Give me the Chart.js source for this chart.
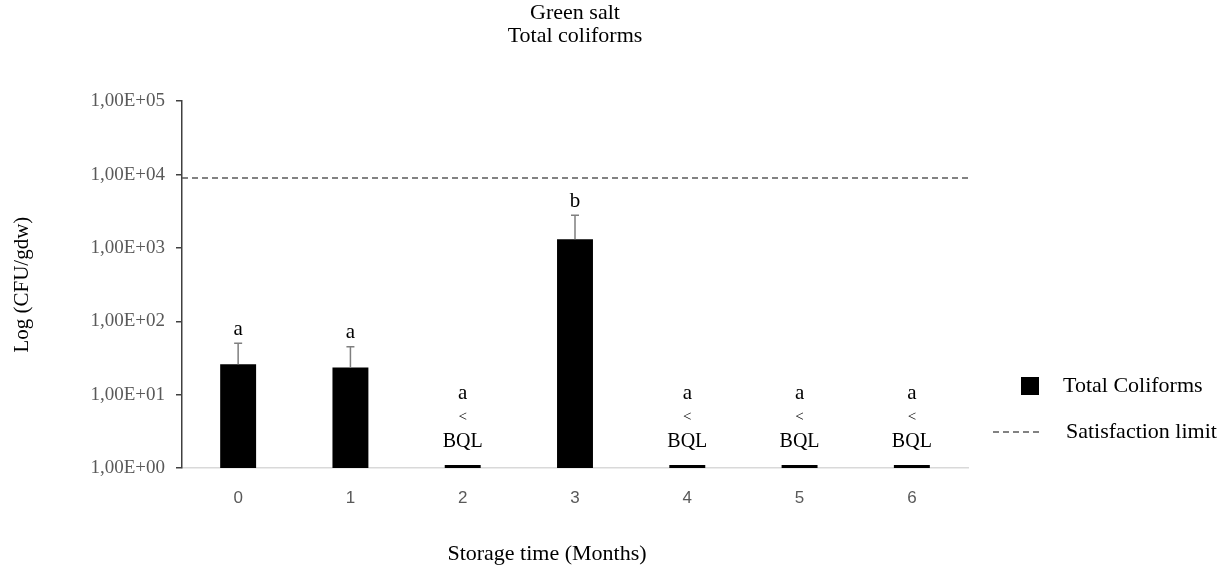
<!DOCTYPE html>
<html>
<head>
<meta charset="utf-8">
<script src="https://cdn.jsdelivr.net/npm/chart.js@4.4.1/dist/chart.umd.min.js"></script>
<style>
    html, body { margin: 0; padding: 0; background: #fff; }
    #wrap { width: 1222px; height: 566px; }
</style>
</head>
<body>
<div id="wrap"><canvas id="chart"></canvas></div>
<script>
var months = ['0', '1', '2', '3', '4', '5', '6'];
// samples below the quantification limit show up as a thin dash just above 1
var coliforms = [26, 23.5, 1.1, 1310, 1.1, 1.1, 1.1];
var coliformsError = [24, 21.5, 0, 1470, 0, 0, 0];
var letters = ['a', 'a', 'a', 'b', 'a', 'a', 'a'];
var belowLimit = [false, false, true, false, true, true, true];
var satisfactionLimit = 9000;
var yTickValues = [1, 10, 100, 1000, 10000, 100000];
var yTickLabels = ['1,00E+00', '1,00E+01', '1,00E+02', '1,00E+03', '1,00E+04', '1,00E+05'];

var serif = '"Liberation Serif", "Times New Roman", serif';
var limitDash = [6, 4];

var extrasPlugin = {
    id: 'extras',
    afterDatasetsDraw: (chart) => {
        var ctx = chart.ctx;
        var y = chart.scales.y;
        var area = chart.chartArea;
        var bars = chart.getDatasetMeta(0).data;
        ctx.save();

        // satisfaction limit across the plot
        var ly = y.getPixelForValue(satisfactionLimit);
        ctx.strokeStyle = '#595959';
        ctx.lineWidth = 1.5;
        ctx.setLineDash(limitDash);
        ctx.beginPath();
        ctx.moveTo(area.left, ly);
        ctx.lineTo(area.right + 4, ly);
        ctx.stroke();
        ctx.setLineDash([]);

        // error bars + letters
        ctx.fillStyle = '#000';
        ctx.textAlign = 'center';
        ctx.textBaseline = 'middle';
        var base = y.getPixelForValue(yTickValues[0]);
        for (var i = 0; i < bars.length; i++) {
            var x = bars[i].x;
            if (belowLimit[i]) {
                ctx.font = '21px ' + serif;
                ctx.fillText(letters[i], x, base - 75);
                ctx.font = '15px ' + serif;
                ctx.fillText('<', x, base - 51);
                ctx.font = '20px ' + serif;
                ctx.fillText('BQL', x, base - 26);
                continue;
            }
            var top = y.getPixelForValue(coliforms[i] + coliformsError[i]);
            ctx.strokeStyle = '#7f7f7f';
            ctx.lineWidth = 1.5;
            ctx.beginPath();
            ctx.moveTo(x, bars[i].y);
            ctx.lineTo(x, top);
            ctx.moveTo(x - 4, top);
            ctx.lineTo(x + 4, top);
            ctx.stroke();
            ctx.font = '21px ' + serif;
            ctx.fillText(letters[i], x, top - 14);
        }

        // x axis title, sits a little left of the plot centre
        ctx.font = '22px ' + serif;
        ctx.fillText('Storage time (Months)', (area.left + area.right) / 2 - 28, 554);

        // legend on the right
        var lx = area.right + 53;
        ctx.fillStyle = chart.data.datasets[0].backgroundColor;
        ctx.fillRect(lx, 377, 18, 18);
        ctx.fillStyle = '#000';
        ctx.textAlign = 'left';
        ctx.font = '22px ' + serif;
        ctx.fillText(chart.data.datasets[0].label, lx + 42, 386);
        ctx.strokeStyle = '#595959';
        ctx.setLineDash(limitDash);
        ctx.beginPath();
        ctx.moveTo(lx - 28, 432);
        ctx.lineTo(lx + 22, 432);
        ctx.stroke();
        ctx.setLineDash([]);
        ctx.fillText('Satisfaction limit', lx + 45, 432);
        ctx.restore();
    }
};

var ctx = document.getElementById('chart').getContext('2d');
var chart = new Chart(ctx, {
    type: 'bar',
    data: {
        labels: months,
        datasets: [{
            label: 'Total Coliforms',
            data: coliforms,
            backgroundColor: '#000000',
            borderWidth: 0,
            categoryPercentage: 1,
            barPercentage: 0.32
        }]
    },
    options: {
        responsive: true,
        maintainAspectRatio: false,
        animation: false,
        layout: { padding: { left: 0, right: 254, top: 0, bottom: 0 } },
        plugins: {
            legend: { display: false },
            tooltip: { enabled: false },
            title: {
                display: true,
                fullSize: false,
                text: ['Green salt', 'Total coliforms'],
                color: '#000',
                font: { family: serif, size: 22, weight: 'normal', lineHeight: 1.05 },
                padding: { top: 2, bottom: 53 }
            }
        },
        scales: {
            x: {
                grid: { display: false, drawTicks: false },
                border: { display: true, color: '#d9d9d9', width: 1.5 },
                ticks: { color: '#595959', padding: 20, font: { family: '"Liberation Sans", Arial, sans-serif', size: 17 } },
                afterFit: (scale) => { scale.height = 98; }
            },
            y: {
                type: 'logarithmic',
                min: 1,
                max: 100000,
                afterBuildTicks: (scale) => {
                    scale.ticks = yTickValues.map((v) => ({ value: v }));
                },
                grid: { drawOnChartArea: false, drawTicks: true, tickLength: 6, color: '#404040', lineWidth: 1.5 },
                border: { display: true, color: '#404040', width: 1.5 },
                ticks: {
                    color: '#595959',
                    padding: 11,
                    font: { family: serif, size: 19 },
                    callback: (value) => {
                        var idx = yTickValues.indexOf(value);
                        return idx >= 0 ? yTickLabels[idx] : '';
                    }
                },
                title: {
                    display: true,
                    text: 'Log (CFU/gdw)',
                    color: '#000',
                    font: { family: serif, size: 21, lineHeight: 1.2 },
                    padding: { top: 10, bottom: 0 }
                },
                afterFit: (scale) => { scale.width = 182; }
            }
        }
    },
    plugins: [extrasPlugin]
});
</script>
</body>
</html>
